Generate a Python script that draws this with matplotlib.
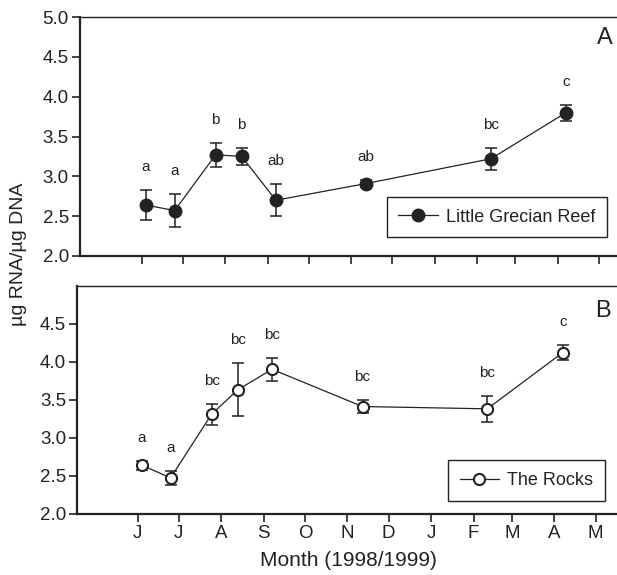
import datetime as dt
import matplotlib
matplotlib.use("Agg")
import matplotlib.pyplot as plt

plt.rcParams['font.family'] = ['Liberation Sans', 'DejaVu Sans']

# ---- data ----
dates = ["1998-06-04", "1998-06-25", "1998-07-25", "1998-08-13",
         "1998-09-07", "1998-11-12", "1999-02-11", "1999-04-07"]
lgr_mean = [2.64, 2.57, 3.27, 3.25, 2.70, 2.91, 3.22, 3.80]
lgr_err = [0.19, 0.21, 0.15, 0.11, 0.20, 0.05, 0.14, 0.10]
lgr_letters = ["a", "a", "b", "b", "ab", "ab", "bc", "c"]
rocks_mean = [2.64, 2.47, 3.31, 3.63, 3.90, 3.41, 3.38, 4.12]
rocks_err = [0.06, 0.09, 0.14, 0.35, 0.15, 0.09, 0.17, 0.10]
rocks_letters = ["a", "a", "bc", "bc", "bc", "bc", "bc", "c"]
month_starts = ["1998-06-01", "1998-07-01", "1998-08-01", "1998-09-01",
                "1998-10-01", "1998-11-01", "1998-12-01", "1999-01-01",
                "1999-02-01", "1999-03-01", "1999-04-01", "1999-05-01"]
month_labels = ["J", "J", "A", "S", "O", "N", "D", "J", "F", "M", "A", "M"]

origin = dt.date(1998, 6, 1)
def day(s):
    return (dt.date.fromisoformat(s) - origin).days

x = [day(d) for d in dates]
xt = [day(d) for d in month_starts]

TXT = '#222222'
fig = plt.figure(figsize=(6.17, 5.75), dpi=100)
ax1 = fig.add_axes([80/617, 1-256/575, 1-80/617, (256-17)/575])
ax2 = fig.add_axes([77.3/617, 1-513.7/575, 1-77.3/617, (513.7-285.7)/575])

def style(ax, xlim):
    ax.set_xlim(*xlim)
    ax.set_ylim(2.0, 5.0)
    ax.spines['right'].set_visible(False)
    ax.spines['left'].set_linewidth(1.6)
    ax.spines['bottom'].set_linewidth(1.6)
    ax.spines['top'].set_linewidth(1.0)
    for s in ax.spines.values():
        s.set_color(TXT)
    ax.tick_params(axis='both', direction='out', length=5.5, width=1.2,
                   colors=TXT, labelsize=13.5, labelcolor=TXT, pad=2.5)
    ax.set_xticks(xt)

def draw(ax, mean, err, letters, face, label, lpos):
    ms = 8.5 if face != 'white' else 8
    ax.errorbar(x, mean, yerr=err, fmt='-', color=TXT, lw=0.9,
                ecolor=TXT, elinewidth=1.1, capsize=4, capthick=1.1, zorder=2)
    ax.plot(x, mean, 'o', ms=ms, mfc=face, mec=TXT, mew=1.5, zorder=3)
    h, = ax.plot([], [], '-o', color=TXT, lw=0.9, ms=ms,
                 mfc=face, mec=TXT, mew=1.5)
    for xi, m, e, t in zip(x, mean, err, letters):
        ax.annotate(t, (xi, m + e), xytext=(0, 16.5), textcoords='offset points',
                    ha='center', va='center', fontsize=11, color=TXT)
    leg = ax.legend([h], [label], loc='lower right', bbox_to_anchor=lpos,
                    borderaxespad=0, fancybox=False, edgecolor=TXT,
                    fontsize=13, handlelength=2.2, borderpad=0.65,
                    handletextpad=0.45, framealpha=1)
    leg.get_frame().set_linewidth(1.0)
    for t in leg.get_texts():
        t.set_color(TXT)

style(ax1, (-45.1, 347.2))
style(ax2, (-44.0, 349.6))

draw(ax1, lgr_mean, lgr_err, lgr_letters, TXT, "Little Grecian Reef", (0.982, 0.078))
draw(ax2, rocks_mean, rocks_err, rocks_letters, 'white', "The Rocks", (0.978, 0.056))

ax1.set_yticks([2.0, 2.5, 3.0, 3.5, 4.0, 4.5, 5.0])
ax1.set_xticklabels([])
ax2.set_yticks([2.0, 2.5, 3.0, 3.5, 4.0, 4.5])
ax2.set_xticklabels(month_labels)
for ax in (ax1, ax2):
    ax.set_yticklabels([f"{v:.1f}" for v in ax.get_yticks()])

fig.text(604.7/617, 1-38.5/575, "A", ha='center', va='center',
         fontsize=17, color=TXT)
fig.text(603/617, 1-310.7/575, "B", ha='center', va='center',
         fontsize=17, color=TXT)

fig.text(348/617, 1-561/575, "Month (1998/1999)", ha='center', va='center',
         fontsize=15, color=TXT)
fig.text(19/617, 1-254/575, "µg RNA/µg DNA", ha='center', va='center',
         rotation=90, fontsize=14, color=TXT)

fig.savefig("out.png", dpi=100)
